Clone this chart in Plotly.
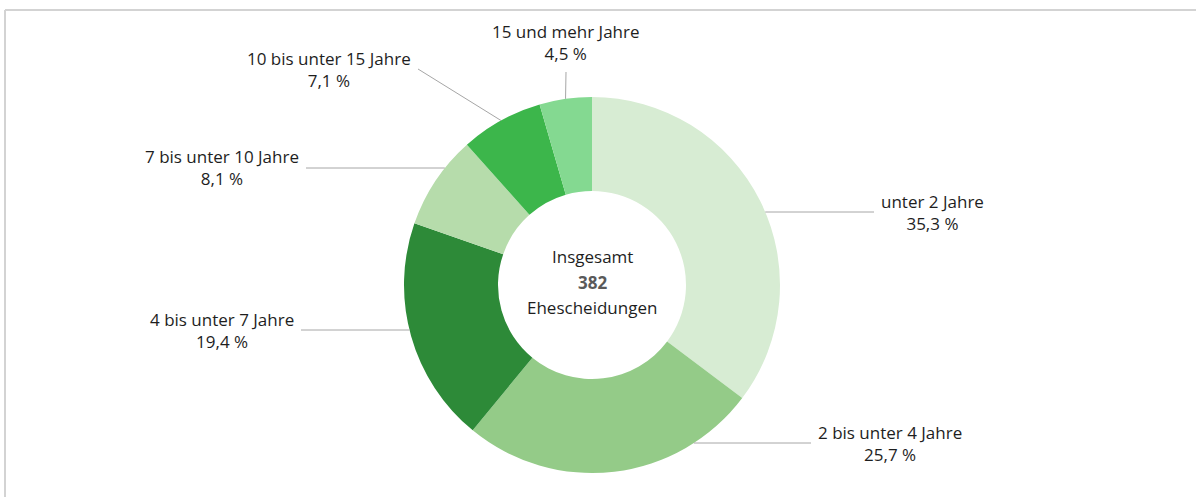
import math
import plotly.graph_objects as go

# data
labels = ["unter 2 Jahre", "2 bis unter 4 Jahre", "4 bis unter 7 Jahre",
          "7 bis unter 10 Jahre", "10 bis unter 15 Jahre", "15 und mehr Jahre"]
shares = [35.3, 25.7, 19.4, 8.1, 7.1, 4.5]
total = 382
center_lines = ["Insgesamt", str(total), "Ehescheidungen"]
colors = ["#d7ecd3", "#94cb88", "#2d8a38", "#b6dcab", "#3cb64b", "#84d991"]

W, H = 1196, 497
cx, cy, R = 592, 285, 188

# where each label sits (pixel tail of the leader line) and how the box is anchored
label_pos = [
    (874, 212, "left", "middle"),
    (811, 443, "left", "middle"),
    (301, 330, "right", "middle"),
    (306, 168, "right", "middle"),
    (418, 69, "right", "middle"),
    (566, 72, "center", "bottom"),
]

fig = go.Figure()
fig.add_trace(go.Pie(
    labels=labels, values=shares, hole=0.5, sort=False,
    direction="clockwise", rotation=0,
    marker=dict(colors=colors, line=dict(width=0)),
    textinfo="none", hoverinfo="label+percent", showlegend=False,
    domain=dict(x=[(cx - R) / W, (cx + R) / W],
                y=[1 - (cy + R) / H, 1 - (cy - R) / H]),
))

font = dict(family="Open Sans, Noto Sans, sans-serif", size=17, color="#1e1e1e")

tot = sum(shares)
start = 0.0
annotations = []
for lab, v, (tx, ty, xa, ya) in zip(labels, shares, label_pos):
    a0 = start / tot * 360
    a1 = (start + v) / tot * 360
    start += v
    dy = ty - cy
    if abs(dy) < R:
        dx = math.copysign(math.sqrt(R * R - dy * dy), tx - cx)
        ang = math.degrees(math.atan2(dx, -dy)) % 360
        ang = min(max(ang, a0 + 2), a1 - 2)
    else:
        ang = (a0 + a1) / 2
    px = cx + R * math.sin(math.radians(ang))
    py = cy - R * math.cos(math.radians(ang))
    txt = lab + "<br>" + f"{v:.1f}".replace(".", ",") + " %"
    annotations.append(dict(
        x=px / W, y=1 - py / H, xref="paper", yref="paper",
        ax=tx - px, ay=ty - py, text=txt, showarrow=True,
        arrowhead=0, arrowwidth=1, arrowcolor="#a6a6a6",
        xanchor=xa, yanchor=ya, align="center", borderpad=6, font=font,
    ))

# centre text, one line each for the wider line spacing
for i, line in enumerate(center_lines):
    if i == 1:
        line = "<b><span style='color:#5a5a5a'>" + line + "</span></b>"
    annotations.append(dict(
        x=cx / W, y=1 - cy / H, xref="paper", yref="paper", showarrow=False,
        text=line, yshift=3 - (i - 1) * 25.5, font=font,
    ))

fig.update_layout(
    width=W, height=H, margin=dict(l=0, r=0, t=0, b=0),
    paper_bgcolor="white", plot_bgcolor="white",
    annotations=annotations,
    shapes=[
        dict(type="line", xref="paper", yref="paper", x0=5 / W, x1=1.01,
             y0=1 - 10 / H, y1=1 - 10 / H, line=dict(color="#d3d3d3", width=2)),
        dict(type="line", xref="paper", yref="paper", x0=5 / W, x1=5 / W,
             y0=1 - 10 / H, y1=-0.01, line=dict(color="#d3d3d3", width=2)),
    ],
)

fig.write_html("out.html", config={"displayModeBar": False},
               post_script="document.body.style.margin='0px';")
